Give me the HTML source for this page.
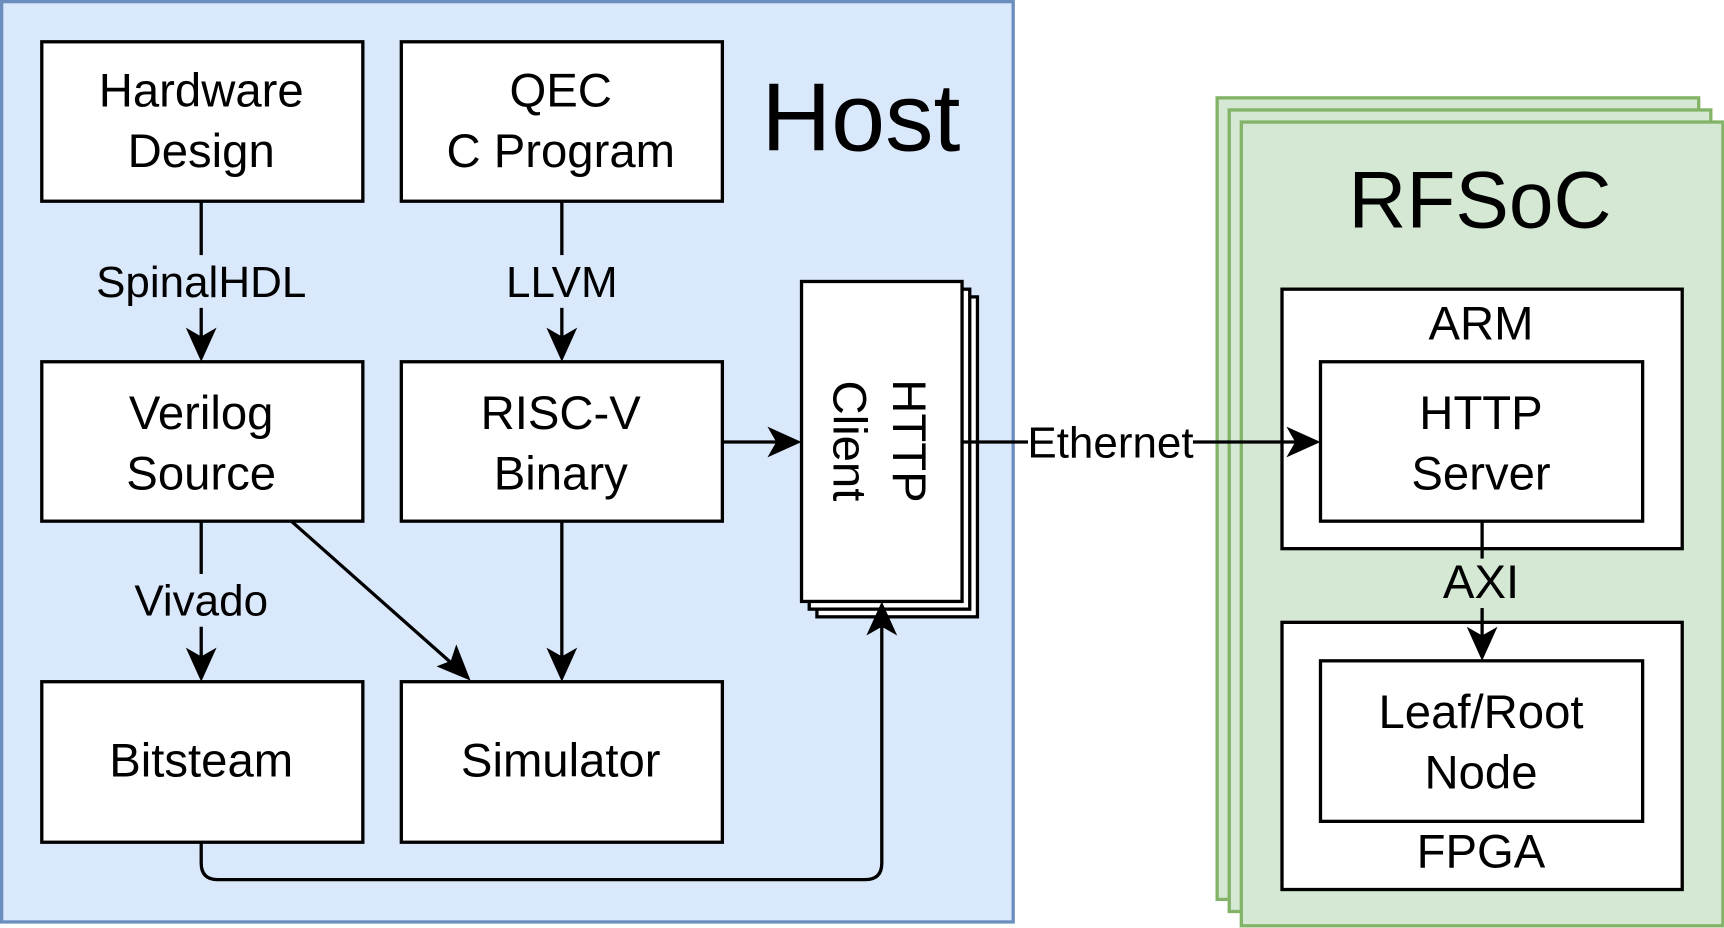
<!DOCTYPE html>
<html><head><style>html,body{margin:0;padding:0;background:#fff}svg{display:block}</style></head>
<body>
<svg width="1724" height="928" viewBox="0 0 1568 844" preserveAspectRatio="none" xmlns="http://www.w3.org/2000/svg" font-family="Liberation Sans, Arial, sans-serif">
<rect x="1.5" y="1.5" width="920" height="837" fill="#dae8fc" stroke="#6c8ebf" stroke-width="3"/>
<g fill="#d5e8d4" stroke="#82b366" stroke-width="3">
<rect x="1107" y="89" width="438" height="729"/>
<rect x="1118" y="100" width="438" height="729"/>
<rect x="1129" y="111" width="438" height="731"/>
</g>
<g fill="#fff" stroke="#000" stroke-width="3">
<rect x="38" y="38" width="292" height="145"/>
<rect x="365" y="38" width="292" height="145"/>
<rect x="38" y="329" width="292" height="145"/>
<rect x="365" y="329" width="292" height="145"/>
<rect x="38" y="620" width="292" height="146"/>
<rect x="365" y="620" width="292" height="146"/>
<rect x="743" y="270" width="146" height="291"/>
<rect x="736" y="263" width="146" height="291"/>
<rect x="729" y="256" width="146" height="291"/>
<rect x="1166" y="263" width="364" height="236"/>
<rect x="1201" y="329" width="293" height="145"/>
<rect x="1166" y="566" width="364" height="243"/>
<rect x="1201" y="601" width="293" height="146"/>
</g>
<g stroke="#000" stroke-width="3" fill="none">
<line x1="183" y1="183" x2="183" y2="232"/><line x1="183" y1="280" x2="183" y2="312"/>
<line x1="511" y1="183" x2="511" y2="232"/><line x1="511" y1="280" x2="511" y2="312"/>
<line x1="657" y1="402" x2="712" y2="402"/>
<line x1="183" y1="474" x2="183" y2="522"/><line x1="183" y1="570" x2="183" y2="603"/>
<line x1="265" y1="474" x2="415" y2="607"/>
<line x1="511" y1="474" x2="511" y2="603"/>
<path d="M183 766 V785 Q183 800 198 800 H787 Q802 800 802 785 V564"/>
<line x1="875" y1="402" x2="935" y2="402"/><line x1="1085" y1="402" x2="1184" y2="402"/>
<line x1="1348" y1="474" x2="1348" y2="508"/><line x1="1348" y1="553" x2="1348" y2="584"/>
</g>
<g fill="#000">
<polygon points="183,329 169,298 183,306 197,298"/>
<polygon points="511,329 497,298 511,306 525,298"/>
<polygon points="729,402 698,388 706,402 698,416"/>
<polygon points="183,620 169,589 183,597 197,589"/>
<polygon points="428,619 397,606 410,601 415,586"/>
<polygon points="511,620 497,589 511,597 525,589"/>
<polygon points="802,547 788,578 802,570 816,578"/>
<polygon points="1201,402 1170,388 1178,402 1170,416"/>
<polygon points="1348,601 1334,570 1348,578 1362,570"/>
</g>
<g font-size="43" text-anchor="middle" fill="#000">
<text x="183" y="97">Hardware</text><text x="183" y="152">Design</text>
<text x="510" y="97">QEC</text><text x="510" y="152">C Program</text>
<text x="183" y="390">Verilog</text><text x="183" y="445">Source</text>
<text x="510" y="390">RISC-V</text><text x="510" y="445">Binary</text>
<text x="183" y="706">Bitsteam</text>
<text x="510" y="706">Simulator</text>
<text x="1347" y="390">HTTP</text><text x="1347" y="445">Server</text>
<text x="1347" y="662">Leaf/Root</text><text x="1347" y="717">Node</text>
<text x="1347" y="309">ARM</text>
<text x="1347" y="789">FPGA</text>
<text x="1347" y="544">AXI</text>
<text transform="translate(812,401) rotate(90)" y="0" x="0">HTTP</text>
<text transform="translate(812,401) rotate(90)" y="54" x="0">Client</text>
</g>
<g font-size="40" text-anchor="middle" fill="#000">
<rect x="85" y="234" width="196" height="44" fill="#dae8fc"/>
<text x="183" y="270">SpinalHDL</text>
<rect x="455" y="234" width="112" height="44" fill="#dae8fc"/>
<text x="511" y="270">LLVM</text>
<rect x="118" y="524" width="130" height="44" fill="#dae8fc"/>
<text x="183" y="560">Vivado</text>
<text x="1010" y="416">Ethernet</text>
</g>
<text x="783" y="137" font-size="88" text-anchor="middle">Host</text>
<text x="1346" y="207" font-size="73" text-anchor="middle">RFSoC</text>
</svg>
</body></html>
